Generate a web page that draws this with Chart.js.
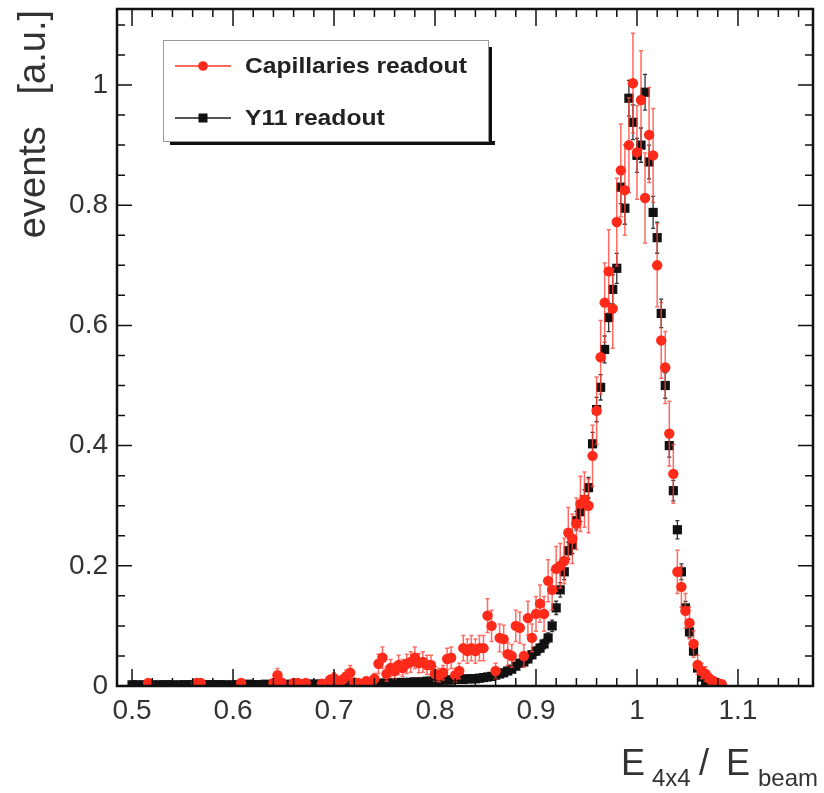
<!DOCTYPE html>
<html lang="en">
<head>
<meta charset="UTF-8">
<title>E4x4 / Ebeam</title>
<script src="https://cdn.jsdelivr.net/npm/chart.js"></script>
<style>
  html, body { margin: 0; padding: 0; background: #fff; }
  #wrap { position: relative; width: 824px; height: 793px; }
</style>
</head>
<body>
<div id="wrap"><canvas id="c" width="824" height="793"></canvas></div>
<script>
// bin centres (E4x4 / Ebeam)
const binX = [
  0.500,0.504,0.508,0.512,0.516,0.520,0.524,0.528,0.532,0.536,
  0.540,0.544,0.548,0.552,0.556,0.560,0.564,0.568,0.572,0.576,
  0.580,0.584,0.588,0.592,0.596,0.600,0.604,0.608,0.612,0.616,
  0.620,0.624,0.628,0.632,0.636,0.640,0.644,0.648,0.652,0.656,
  0.660,0.664,0.668,0.672,0.676,0.680,0.684,0.688,0.692,0.696,
  0.700,0.704,0.708,0.712,0.716,0.720,0.724,0.728,0.732,0.736,
  0.740,0.744,0.748,0.752,0.756,0.760,0.764,0.768,0.772,0.776,
  0.780,0.784,0.788,0.792,0.796,0.800,0.804,0.808,0.812,0.816,
  0.820,0.824,0.828,0.832,0.836,0.840,0.844,0.848,0.852,0.856,
  0.860,0.864,0.868,0.872,0.876,0.880,0.884,0.888,0.892,0.896,
  0.900,0.904,0.908,0.912,0.916,0.920,0.924,0.928,0.932,0.936,
  0.940,0.944,0.948,0.952,0.956,0.960,0.964,0.968,0.972,0.976,
  0.980,0.984,0.988,0.992,0.996,1.000,1.004,1.008,1.012,1.016,
  1.020,1.024,1.028,1.032,1.036,1.040,1.044,1.048,1.052,1.056,
  1.060,1.064,1.068,1.072,1.076,1.080,1.084,1.088
];

// Capillaries readout (empty bins = null)
const capY = [
  null,null,null,null,0.005,null,null,null,null,null,
  null,null,null,null,null,null,0.005,0.005,null,null,
  null,null,null,null,null,null,null,0.005,null,null,
  null,null,null,null,null,0.005,0.018,0.006,null,null,
  0.005,0.005,null,0.005,null,null,null,0.004,null,0.010,
  0.013,0.008,0.010,0.016,0.022,0.006,0.005,null,0.008,0.005,
  0.012,0.037,0.047,0.020,0.030,0.025,0.035,0.030,0.037,0.040,
  0.047,0.038,0.040,0.035,0.035,0.020,0.018,0.022,0.045,0.047,
  0.018,0.025,0.063,0.058,0.063,0.058,0.063,0.063,0.117,0.100,
  0.025,0.080,0.078,0.053,0.050,0.100,0.097,0.050,0.113,0.080,
  0.120,0.137,0.120,0.175,0.160,0.195,0.200,0.208,0.255,0.245,
  0.270,0.303,0.310,0.300,0.383,0.458,0.547,0.638,0.690,0.628,
  0.772,0.858,0.825,0.900,1.003,0.888,0.975,0.812,0.917,0.883,
  0.700,0.575,0.530,0.420,0.353,0.190,0.165,0.125,0.105,0.070,
  0.035,0.025,0.020,0.012,0.008,0.005,0.003,null
];
const capErr = [
  null,null,null,null,0.006,null,null,null,null,null,
  null,null,null,null,null,null,0.006,0.006,null,null,
  null,null,null,null,null,null,null,0.006,null,null,
  null,null,null,null,null,0.006,0.011,0.006,null,null,
  0.006,0.006,null,0.006,null,null,null,0.005,null,0.008,
  0.009,0.007,0.008,0.010,0.012,0.006,0.006,null,0.007,0.006,
  0.009,0.016,0.018,0.012,0.014,0.013,0.016,0.014,0.016,0.017,
  0.018,0.016,0.017,0.016,0.016,0.012,0.011,0.012,0.018,0.018,
  0.011,0.013,0.021,0.020,0.021,0.020,0.021,0.021,0.028,0.026,
  0.013,0.023,0.023,0.019,0.019,0.026,0.026,0.019,0.028,0.023,
  0.029,0.031,0.029,0.035,0.033,0.037,0.037,0.038,0.042,0.041,
  0.043,0.046,0.046,0.045,0.051,0.056,0.061,0.066,0.069,0.066,
  0.073,0.077,0.075,0.079,0.083,0.078,0.082,0.075,0.079,0.078,
  0.069,0.063,0.060,0.054,0.049,0.036,0.034,0.029,0.027,0.022,
  0.016,0.013,0.012,0.009,0.007,0.006,0.005,null
];

// Y11 readout
const y11Y = [
  0.002,0.002,0.001,0.002,0.002,0.002,0.001,0.002,0.002,0.002,
  0.002,0.001,0.002,0.002,0.002,0.002,0.002,0.001,0.002,0.002,
  0.002,0.002,0.002,0.002,0.001,0.002,0.002,0.002,0.002,0.003,
  0.002,0.002,0.002,0.003,0.002,0.002,0.003,0.002,0.002,0.003,
  0.002,0.003,0.003,0.002,0.003,0.003,0.003,0.003,0.003,0.003,
  0.003,0.003,0.004,0.003,0.003,0.004,0.004,0.004,0.004,0.004,
  0.004,0.005,0.004,0.005,0.005,0.005,0.006,0.005,0.006,0.006,
  0.007,0.006,0.007,0.008,0.008,0.009,0.009,0.010,0.010,0.010,
  0.011,0.011,0.011,0.012,0.012,0.012,0.013,0.014,0.015,0.016,
  0.018,0.020,0.022,0.025,0.028,0.033,0.038,0.040,0.045,0.052,
  0.058,0.063,0.070,0.080,0.100,0.130,0.160,0.190,0.225,0.235,
  0.275,0.290,0.310,0.330,0.403,0.460,0.497,0.560,0.613,0.660,
  0.695,0.830,0.795,0.978,0.938,0.883,0.900,0.988,0.872,0.788,
  0.746,0.620,0.500,0.400,0.325,0.260,0.190,0.130,0.090,0.058,
  0.030,0.015,0.008,0.004,0.002,0.001,null,null
];
const y11Err = [
  0.0013,0.0013,0.001,0.0013,0.0013,0.0013,0.001,0.0013,0.0013,0.0013,
  0.0013,0.001,0.0013,0.0013,0.0013,0.0013,0.0013,0.001,0.0013,0.0013,
  0.0013,0.0013,0.0013,0.0013,0.001,0.0013,0.0013,0.0013,0.0013,0.0016,
  0.0013,0.0013,0.0013,0.0016,0.0013,0.0013,0.0016,0.0013,0.0013,0.0016,
  0.0013,0.0016,0.0016,0.0013,0.0016,0.0016,0.0016,0.0016,0.0016,0.0016,
  0.0016,0.0016,0.0019,0.0016,0.0016,0.0019,0.0019,0.0019,0.0019,0.0019,
  0.0019,0.002,0.0019,0.002,0.002,0.002,0.0023,0.002,0.0023,0.0023,
  0.0025,0.0023,0.0025,0.0027,0.0027,0.0028,0.0028,0.003,0.003,0.003,
  0.0032,0.0032,0.0032,0.0032,0.0032,0.0032,0.0034,0.0035,0.0037,0.0038,
  0.004,0.0042,0.0044,0.0047,0.005,0.0054,0.0058,0.006,0.0064,0.0068,
  0.0072,0.0075,0.008,0.0085,0.0095,0.011,0.012,0.013,0.0142,0.0145,
  0.0157,0.016,0.0167,0.0172,0.019,0.0203,0.0211,0.0224,0.0235,0.0244,
  0.025,0.0273,0.0267,0.0297,0.029,0.0282,0.0285,0.0298,0.028,0.0266,
  0.0259,0.0236,0.0212,0.019,0.0171,0.0153,0.0131,0.0108,0.009,0.0072,
  0.0052,0.0037,0.0027,0.0019,0.0013,0.001,null,null
];

const seriesNames = ['Capillaries readout', 'Y11 readout'];
const xTicks = [0.5, 0.6, 0.7, 0.8, 0.9, 1.0, 1.1];
const yTicks = [0, 0.2, 0.4, 0.6, 0.8, 1.0];

const FONT = "'Liberation Sans', Arial, Helvetica, sans-serif";
const binHalf = 0.002;

function toPoints(ys, errs) {
  const pts = [];
  binX.forEach((x, i) => {
    if (ys[i] !== null) pts.push({ x: x, y: ys[i], e: errs[i] });
  });
  return pts;
}

// ROOT-like frame, inward ticks, error bars, legend and titles
const rootStyle = {
  id: 'rootStyle',
  beforeDatasetDraw(chart, args) {
    const ds = chart.data.datasets[args.index];
    const xs = chart.scales.x, ys = chart.scales.y, ctx = chart.ctx;
    const a = chart.chartArea;
    ctx.save();
    ctx.beginPath();
    ctx.rect(a.left, a.top, a.right - a.left, a.bottom - a.top);
    ctx.clip();
    ctx.strokeStyle = ds.errColor;
    ctx.lineWidth = ds.errWidth;
    ctx.beginPath();
    ds.data.forEach(p => {
      const px = xs.getPixelForValue(p.x);
      const py = ys.getPixelForValue(p.y);
      const t = ys.getPixelForValue(p.y + p.e);
      const b = ys.getPixelForValue(p.y - p.e);
      ctx.moveTo(px, t); ctx.lineTo(px, b);
      ctx.moveTo(px - 2, t); ctx.lineTo(px + 2, t);
      ctx.moveTo(px - 2, b); ctx.lineTo(px + 2, b);
      ctx.moveTo(xs.getPixelForValue(p.x - binHalf), py);
      ctx.lineTo(xs.getPixelForValue(p.x + binHalf), py);
    });
    ctx.stroke();
    ctx.restore();
  },
  afterDraw(chart) {
    const ctx = chart.ctx, a = chart.chartArea;
    const xs = chart.scales.x, ys = chart.scales.y;
    ctx.save();

    // frame
    ctx.strokeStyle = '#111';
    ctx.lineWidth = 2.5;
    ctx.strokeRect(a.left, a.top, a.right - a.left, a.bottom - a.top);

    // ticks
    ctx.lineWidth = 1.5;
    ctx.beginPath();
    for (let v = 0.48; v <= 1.18; v += 0.02) {
      const val = Math.round(v * 100) / 100;
      if (val < xs.min || val > xs.max) continue;
      const major = xTicks.some(t => Math.abs(t - val) < 1e-6);
      const len = major ? 17 : 8;
      const px = xs.getPixelForValue(val);
      ctx.moveTo(px, a.bottom); ctx.lineTo(px, a.bottom - len);
      ctx.moveTo(px, a.top); ctx.lineTo(px, a.top + len);
    }
    for (let v = 0; v <= 1.15; v += 0.05) {
      const val = Math.round(v * 100) / 100;
      if (val > ys.max) continue;
      const major = yTicks.some(t => Math.abs(t - val) < 1e-6);
      const len = major ? 15 : 8;
      const py = ys.getPixelForValue(val);
      ctx.moveTo(a.left, py); ctx.lineTo(a.left + len, py);
      ctx.moveTo(a.right, py); ctx.lineTo(a.right - len, py);
    }
    ctx.stroke();

    // y title
    ctx.fillStyle = '#333';
    ctx.save();
    ctx.translate(45, 10);
    ctx.rotate(-Math.PI / 2);
    ctx.font = '38px ' + FONT;
    ctx.textAlign = 'right';
    ctx.textBaseline = 'alphabetic';
    ctx.fillText('events   [a.u.]', 0, 0);
    ctx.restore();

    // x title  E_{4x4} / E_{beam}
    ctx.textAlign = 'left';
    ctx.textBaseline = 'alphabetic';
    const parts = [
      { t: 'E', x: 621, size: 36, base: 775 },
      { t: '4x4', x: 652, size: 24, base: 786 },
      { t: '/', x: 699, size: 36, base: 775 },
      { t: 'E', x: 726, size: 36, base: 775 },
      { t: 'beam', x: 758, size: 24, base: 786 }
    ];
    parts.forEach(p => {
      ctx.font = p.size + 'px ' + FONT;
      ctx.fillText(p.t, p.x, p.base);
    });

    // legend box with shadow
    const lx = 163, ly = 40, lw = 325, lh = 101;
    ctx.fillStyle = '#111';
    ctx.fillRect(lx + 7, ly + lh, lw, 4);
    ctx.fillRect(lx + lw, ly + 7, 4, lh - 3);
    ctx.fillStyle = '#fff';
    ctx.fillRect(lx, ly, lw, lh);
    ctx.strokeStyle = '#999';
    ctx.lineWidth = 1;
    ctx.strokeRect(lx + 0.5, ly + 0.5, lw, lh);

    chart.data.datasets.forEach((ds, i) => {
      const cy = ly + 26 + i * 52;
      ctx.strokeStyle = ds.legendLine;
      ctx.lineWidth = 2;
      ctx.beginPath();
      ctx.moveTo(lx + 12, cy); ctx.lineTo(lx + 68, cy);
      ctx.stroke();
      ctx.fillStyle = ds.backgroundColor;
      if (ds.pointStyle === 'rect') {
        ctx.fillRect(lx + 40 - 4.5, cy - 4.5, 9, 9);
      } else {
        ctx.beginPath();
        ctx.arc(lx + 40, cy, 4.8, 0, Math.PI * 2);
        ctx.fill();
      }
      ctx.fillStyle = '#222';
      ctx.font = 'bold 22px ' + FONT;
      ctx.textBaseline = 'middle';
      ctx.save();
      ctx.translate(lx + 82, cy + 1);
      ctx.scale(1.12, 1);
      ctx.fillText(ds.label, 0, 0);
      ctx.restore();
    });

    ctx.restore();
  }
};

const fmt = v => String(Number(v.toFixed(1)));

new Chart(document.getElementById('c'), {
  type: 'scatter',
  data: {
    datasets: [
      {
        label: seriesNames[0],
        data: toPoints(capY, capErr),
        pointStyle: 'circle',
        pointRadius: 5.2,
        backgroundColor: '#ff2a1a',
        borderColor: '#ff2a1a',
        borderWidth: 0,
        errColor: 'rgba(255,70,60,0.8)',
        errWidth: 1.5,
        legendLine: '#ff6a5a'
      },
      {
        label: seriesNames[1],
        data: toPoints(y11Y, y11Err),
        pointStyle: 'rect',
        pointRadius: 6.5,
        backgroundColor: '#111',
        borderColor: '#111',
        borderWidth: 0,
        errColor: '#333',
        errWidth: 1.3,
        legendLine: '#555'
      }
    ]
  },
  options: {
    responsive: false,
    animation: false,
    layout: { padding: { left: 0, top: 9, right: 11, bottom: 0 } },
    plugins: { legend: { display: false }, tooltip: { enabled: false } },
    scales: {
      x: {
        type: 'linear',
        min: 0.4851,
        max: 1.1743,
        afterFit(s) { s.height = 107; s.paddingLeft = 0; s.paddingRight = 0; },
        afterBuildTicks(s) { s.ticks = xTicks.map(v => ({ value: v })); },
        grid: { display: false, drawTicks: false },
        border: { display: false },
        ticks: {
          font: { family: FONT, size: 28 },
          color: '#333',
          padding: 8,
          maxRotation: 0,
          autoSkip: false,
          callback: v => fmt(v)
        }
      },
      y: {
        type: 'linear',
        min: 0,
        max: 1.1265,
        afterFit(s) { s.width = 117; s.paddingTop = 0; s.paddingBottom = 0; },
        afterBuildTicks(s) { s.ticks = yTicks.map(v => ({ value: v })); },
        grid: { display: false, drawTicks: false },
        border: { display: false },
        ticks: {
          font: { family: FONT, size: 28 },
          color: '#333',
          padding: 9,
          autoSkip: false,
          callback: v => fmt(v)
        }
      }
    }
  },
  plugins: [rootStyle]
});
</script>
</body>
</html>
